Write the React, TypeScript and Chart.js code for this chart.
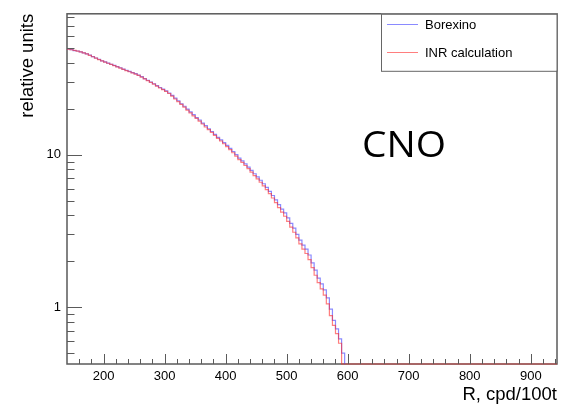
import React, { useEffect, useRef } from 'react';
import { Chart, registerables } from 'chart.js';

Chart.register(...registerables);

// ---- data ----
const BIN_START = 140;
const BIN_WIDTH = 5;

const seriesLabels = ['Borexino', 'INR calculation'];

// Borexino histogram (bins of 5 starting at 140)
const borexino = [
  49.5, 48.9, 48.2, 47.9, 47.3, 46.5, 45.9, 45.1, 44.0, 43.1,
  42.3, 41.3, 40.7, 39.9, 39.2, 38.6, 37.8, 37.2, 36.4, 35.8,
  35.2, 34.5, 34.0, 33.3, 32.5, 31.6, 30.8, 30.0, 29.2, 28.4,
  27.6, 26.9, 26.2, 25.4, 24.5, 23.5, 22.6, 21.6, 20.8, 19.9,
  19.1, 18.3, 17.5, 16.9, 16.1, 15.5, 14.8, 14.2, 13.6, 13.0,
  12.5, 12.0, 11.5, 11.0, 10.5, 10.0, 9.5, 9.1, 8.7, 8.3,
  7.9, 7.5, 7.15, 6.8, 6.45, 6.1, 5.75, 5.4, 5.05, 4.7,
  4.4, 4.15, 3.85, 3.55, 3.3, 3.0, 2.75, 2.55, 2.4, 2.2,
  1.95, 1.75, 1.55, 1.42, 1.3, 1.15, 0.97, 0.82, 0.72, 0.62,
  0.5,
];

// INR calculation histogram (bins of 5 starting at 140)
const inr = [
  49.3, 48.8, 48.3, 47.8, 47.2, 46.6, 45.8, 44.9, 43.9, 43.0,
  42.1, 41.2, 40.5, 39.8, 39.1, 38.4, 37.7, 37.0, 36.3, 35.6,
  35.0, 34.4, 33.8, 33.1, 32.3, 31.4, 30.6, 29.8, 29.0, 28.2,
  27.4, 26.7, 26.0, 25.2, 24.2, 23.2, 22.3, 21.4, 20.5, 19.6,
  18.8, 18.0, 17.3, 16.6, 15.9, 15.2, 14.6, 14.0, 13.4, 12.8,
  12.3, 11.8, 11.3, 10.8, 10.3, 9.8, 9.3, 8.9, 8.5, 8.1,
  7.7, 7.3, 6.95, 6.6, 6.25, 5.9, 5.55, 5.2, 4.85, 4.5,
  4.2, 3.95, 3.65, 3.35, 3.1, 2.85, 2.6, 2.4, 2.25, 2.05,
  1.82, 1.62, 1.45, 1.32, 1.2, 1.05, 0.88, 0.76, 0.67, 0.58,
];

const xMajorTicks = [200, 300, 400, 500, 600, 700, 800, 900];
const xMinorTicks = [
  160, 180, 220, 240, 260, 280, 320, 340, 360, 380, 420, 440, 460, 480,
  520, 540, 560, 580, 620, 640, 660, 680, 720, 740, 760, 780, 820, 840,
  860, 880, 920, 940,
];
const yMajorTicks = [1, 10];
const yMinorTicks = [0.5, 0.6, 0.7, 0.8, 0.9, 2, 3, 4, 5, 6, 7, 8, 9, 20, 30, 40, 50, 60, 70, 80];

const X_MIN = 140;
const X_MAX = 943;
const Y_MIN = 0.424;
const Y_MAX = 84;

const xTitle = 'R, cpd/100t';
const yTitle = 'relative units';
const annotation = 'CNO';

const BLUE = 'rgba(60, 60, 255, 0.6)';
const RED = 'rgba(255, 40, 40, 0.6)';
const AXIS = '#5a5a5a';
const FONT = '"Liberation Sans", Arial, sans-serif';

function histPoints(values: number[], extendTo?: number) {
  const pts = values.map((v, i) => ({ x: BIN_START + i * BIN_WIDTH, y: v > 0 ? v : Y_MIN }));
  const end = BIN_START + values.length * BIN_WIDTH;
  pts.push({ x: end, y: Y_MIN });
  if (extendTo !== undefined) pts.push({ x: extendTo, y: Y_MIN });
  return pts;
}

const rootPlugin = {
  id: 'rootStyle',
  beforeDatasetsDraw(chart: any) {
    const { ctx, chartArea } = chart;
    const { left, right, top, bottom } = chartArea;
    ctx.save();
    ctx.strokeStyle = AXIS;
    ctx.lineWidth = 1.5;
    ctx.strokeRect(left, top, right - left, bottom - top);
    ctx.restore();
  },
  afterDatasetsDraw(chart: any) {
    const { ctx, chartArea } = chart;
    const { left, right, top, bottom } = chartArea;
    const xs = chart.scales.x;
    const ys = chart.scales.y;
    ctx.save();

    // ticks (inside)
    ctx.strokeStyle = AXIS;
    ctx.lineWidth = 1;
    ctx.beginPath();
    for (const v of xMajorTicks) {
      const px = Math.round(xs.getPixelForValue(v)) + 0.5;
      ctx.moveTo(px, bottom);
      ctx.lineTo(px, bottom - 10);
    }
    for (const v of xMinorTicks) {
      const px = Math.round(xs.getPixelForValue(v)) + 0.5;
      ctx.moveTo(px, bottom);
      ctx.lineTo(px, bottom - 5);
    }
    for (const v of yMajorTicks) {
      const py = Math.round(ys.getPixelForValue(v)) + 0.5;
      ctx.moveTo(left, py);
      ctx.lineTo(left + 15, py);
    }
    for (const v of yMinorTicks) {
      const py = Math.round(ys.getPixelForValue(v)) + 0.5;
      ctx.moveTo(left, py);
      ctx.lineTo(left + 7.5, py);
    }
    ctx.stroke();

    // axis titles
    ctx.fillStyle = '#000';
    ctx.font = `18.5px ${FONT}`;
    ctx.textAlign = 'right';
    ctx.textBaseline = 'alphabetic';
    ctx.fillText(xTitle, right, 400);
    ctx.save();
    ctx.translate(33, top);
    ctx.rotate(-Math.PI / 2);
    ctx.textAlign = 'right';
    ctx.fillText(yTitle, 0, 0);
    ctx.restore();

    // legend box
    const lx = 381, ly = top, lw = right - 381, lh = 57;
    ctx.fillStyle = '#fff';
    ctx.fillRect(lx, ly, lw, lh);
    ctx.strokeStyle = '#666';
    ctx.lineWidth = 1;
    ctx.strokeRect(lx + 0.5, ly + 0.5, lw - 0.5, lh);
    const colors = [BLUE, RED];
    const rows = [24.5, 52.5];
    ctx.font = `13px ${FONT}`;
    ctx.textAlign = 'left';
    ctx.textBaseline = 'middle';
    seriesLabels.forEach((lab, i) => {
      ctx.strokeStyle = colors[i];
      ctx.lineWidth = 1;
      ctx.beginPath();
      ctx.moveTo(387, rows[i]);
      ctx.lineTo(418, rows[i]);
      ctx.stroke();
      ctx.fillStyle = '#000';
      ctx.fillText(lab, 425, rows[i] + 0.5);
    });

    // annotation
    ctx.fillStyle = '#000';
    ctx.font = `36px "Open Sans", sans-serif`;
    ctx.textAlign = 'left';
    ctx.textBaseline = 'alphabetic';
    ctx.save();
    ctx.translate(362, 157);
    ctx.scale(1.08, 1);
    ctx.fillText(annotation, 0, 0);
    ctx.restore();

    ctx.restore();
  },
};

export default function App() {
  const ref = useRef<HTMLCanvasElement | null>(null);

  useEffect(() => {
    document.body.style.margin = '0';
    const canvas = ref.current!;
    const chart = new Chart(canvas, {
      type: 'line',
      data: {
        datasets: [
          {
            label: seriesLabels[1],
            data: histPoints(inr, X_MAX),
            borderColor: RED,
            borderWidth: 1.2,
            pointRadius: 0,
            stepped: 'before',
            fill: false,
            order: 0,
            clip: 2,
          },
          {
            label: seriesLabels[0],
            data: histPoints(borexino),
            borderColor: BLUE,
            borderWidth: 1.2,
            pointRadius: 0,
            stepped: 'before',
            fill: false,
            order: 1,
            clip: 2,
          },
        ],
      },
      options: {
        responsive: false,
        animation: false,
        devicePixelRatio: 1,
        layout: { padding: { left: 0, right: 8, top: 11, bottom: 0 } },
        plugins: {
          legend: { display: false },
          tooltip: { enabled: false },
        },
        scales: {
          x: {
            type: 'linear',
            min: X_MIN,
            max: X_MAX,
            grid: { display: false, drawTicks: false },
            border: { display: false },
            afterBuildTicks: (scale: any) => {
              scale.ticks = xMajorTicks.map((v) => ({ value: v }));
            },
            afterFit: (scale: any) => {
              scale.height = 44;
            },
            ticks: {
              padding: 5,
              color: '#000',
              font: { family: FONT, size: 13 },
              maxRotation: 0,
              autoSkip: false,
              callback: (v: any) => String(v),
            },
          },
          y: {
            type: 'logarithmic',
            min: Y_MIN,
            max: Y_MAX,
            grid: { display: false, drawTicks: false },
            border: { display: false },
            afterBuildTicks: (scale: any) => {
              scale.ticks = yMajorTicks.map((v) => ({ value: v }));
            },
            afterFit: (scale: any) => {
              scale.width = 67;
            },
            ticks: {
              padding: 6,
              color: '#000',
              font: { family: FONT, size: 13 },
              autoSkip: false,
              callback: (v: any) => String(v),
            },
          },
        },
      },
      plugins: [rootPlugin],
    });
    return () => chart.destroy();
  }, []);

  return (
    <div style={{ position: 'fixed', left: 0, top: 0, width: 565, height: 408, background: '#fff' }}>
      <canvas ref={ref} width={565} height={408} style={{ display: 'block' }} />
    </div>
  );
}
